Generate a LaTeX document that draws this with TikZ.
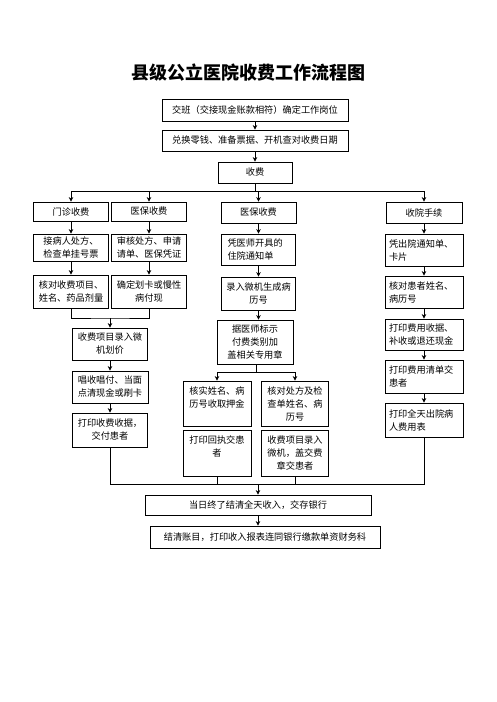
\documentclass[tikz,border=0pt]{standalone}
\usepackage{fontspec}
\setmainfont{Noto Sans CJK SC}
\usetikzlibrary{arrows.meta}
\begin{document}
\begin{tikzpicture}[x=1pt,y=-1pt,
  bf/.style={font=\fontsize{9.2}{13}\selectfont},
  box/.style={bf, draw, line width=0.8pt, inner sep=0pt, align=center},
  lbox/.style={bf, draw, line width=0.8pt, inner ysep=0pt, inner xsep=4pt, align=left},
  txt/.style={bf, inner sep=0pt, align=center},
  ln/.style={line width=0.8pt},
  arr/.style={line width=0.8pt, -{Stealth[length=4.5pt,width=4.5pt]}}]
\fill[white] (0,0) rectangle (496,702);
\useasboundingbox (0,0) rectangle (496,702);

\node[font=\fontsize{18}{18}\selectfont\bfseries, inner sep=0pt] (title) at (248,73) {县级公立医院收费工作流程图};

\node[box, minimum width=186pt, minimum height=22pt] (b1) at (255,110) {交班（交接现金账款相符）确定工作岗位};
\node[box, minimum width=186pt, minimum height=21pt] (b2) at (255,140.5) {兑换零钱、准备票据、开机查对收费日期};
\node[box, minimum width=74pt, minimum height=21pt] (b3) at (255,172.5) {收费};

% row A
\node[box, minimum width=75pt, minimum height=19pt] (L1) at (71,211.5) {门诊收费};
\node[box, minimum width=75pt, minimum height=19pt] (L2) at (149,211.5) {医保收费};
\node[box, minimum width=75pt, minimum height=21pt] (M1) at (258.5,212.5) {医保收费};
\node[box, minimum width=76pt, minimum height=21pt] (R1) at (424,212.5) {收院手续};

% row B
\node[box, minimum width=75pt, minimum height=27pt] (L1b) at (71,247.5) {接病人处方、\\检查单挂号票};
\node[box, minimum width=75pt, minimum height=27pt] (L2b) at (149,247.5) {审核处方、申请\\请单、医保凭证};
\node[lbox, inner xsep=6pt, text width=62pt, minimum height=31pt] (M2) at (258.5,249.5) {凭医师开具的\\住院通知单};
\node[lbox, text width=70pt, minimum height=32pt] (R2) at (424,250) {凭出院通知单、\\卡片};

% row C
\node[box, minimum width=75pt, minimum height=33pt] (L1c) at (71,291.5) {核对收费项目、\\姓名、药品剂量};
\node[box, minimum width=75pt, minimum height=33pt] (L2c) at (149,291.5) {确定划卡或慢性\\病付现};
\node[box, minimum width=74pt, minimum height=33pt] (M3) at (258.5,293.5) {录入微机生成病\\历号};
\node[lbox, text width=70pt, minimum height=32pt] (R3) at (424,292) {核对患者姓名、\\病历号};

% left column lower
\node[box, minimum width=75pt, minimum height=32pt] (L4) at (110,344) {收费项目录入微\\机划价};
\node[box, minimum width=76pt, minimum height=32pt] (L5) at (110,387) {唱收唱付、当面\\点清现金或刷卡};
\node[box, minimum width=75pt, minimum height=34pt] (L6) at (110,430) {打印收费收据，\\交付患者};

% middle column lower
\node[box, minimum width=76pt, minimum height=44pt] (M4) at (255,342) {据医师标示\\付费类别加\\盖相关专用章};
\node[box, minimum width=68pt, minimum height=45pt] (M5a) at (217,403.5) {};
\node[txt, anchor=north] (M5at) at ([yshift=-6pt]M5a.north) {核实姓名、病\\历号收取押金};
\node[box, minimum width=67pt, minimum height=45pt] (M5b) at (295,403.5) {核对处方及检\\查单姓名、病\\历号};
\node[box, minimum width=68pt, minimum height=46pt] (M6a) at (217,453) {};
\node[txt, anchor=north] (M6at) at ([yshift=-5.5pt]M6a.north) {打印回执交患\\者};
\node[box, minimum width=67pt, minimum height=46pt] (M6b) at (295,453) {收费项目录入\\微机，盖交费\\章交患者};

% right column lower
\node[lbox, text width=70pt, minimum height=31pt] (R4) at (424,334.5) {打印费用收据、\\补收或退还现金};
\node[lbox, text width=70pt, minimum height=33pt] (R5) at (424,376.5) {打印费用清单交\\患者};
\node[lbox, text width=70pt, minimum height=34pt] (R6) at (424,420) {打印全天出院病\\人费用表};

% final
\node[box, minimum width=226pt, minimum height=20pt] (F1) at (258,505) {当日终了结清全天收入，交存银行};
\node[box, minimum width=230pt, minimum height=22pt] (F2) at (265,537) {结清账目，打印收入报表连同银行缴款单资财务科};

% connectors top
\draw[arr] (b1) -- (b2);
\draw[arr] (b2) -- (b3);
\coordinate (jn) at (255,191);
\draw[ln] (b3.south) -- (jn);
\draw[arr] (jn) -| (L1.north);
\draw[arr] (jn) -| (L2.north);
\draw[arr] (jn) -| (M1.north);
\draw[arr] (jn) -| (R1.north);

% left
\draw[arr] (L1) -- (L1b);
\draw[arr] (L1b) -- (L1c);
\draw[arr] (L2) -- (L2b);
\draw[arr] (L2b) -- (L2c);
\coordinate (lm) at (110,318);
\draw[ln] (L1c.south) |- (lm) -| (L2c.south);
\draw[arr] (lm) -- (L4);
\draw[arr] (L4) -- (L5);
\draw[arr] (L5) -- (L6);

% middle
\draw[arr] (M1) -- (M2);
\draw[arr] (M2) -- (M3);
\draw[arr] (M3.south) -- (M3.south |- M4.north);
\coordinate (ms) at (256,372);
\draw[ln] (M4.south -| ms) -- (ms);
\draw[arr] (ms) -| (M5a.north);
\draw[arr] (ms) -| (M5b.north);

% right
\draw[arr] (R1) -- (R2);
\draw[arr] (R2) -- (R3);
\draw[arr] (R3) -- (R4);
\draw[arr] (R4) -- (R5);
\draw[arr] (R5) -- (R6);

% bottom join
\coordinate (bj) at (258,484);
\draw[ln] (L6.south) |- (bj);
\draw[ln] (R6.south) |- (bj);
\draw[ln] (M6a.south) -- (M6a.south |- bj);
\draw[ln] (M6b.south) -- (M6b.south |- bj);
\draw[arr] (bj) -- (F1);
\draw[arr] (F1.south) -- (F1.south |- F2.north);
\end{tikzpicture}
\end{document}
